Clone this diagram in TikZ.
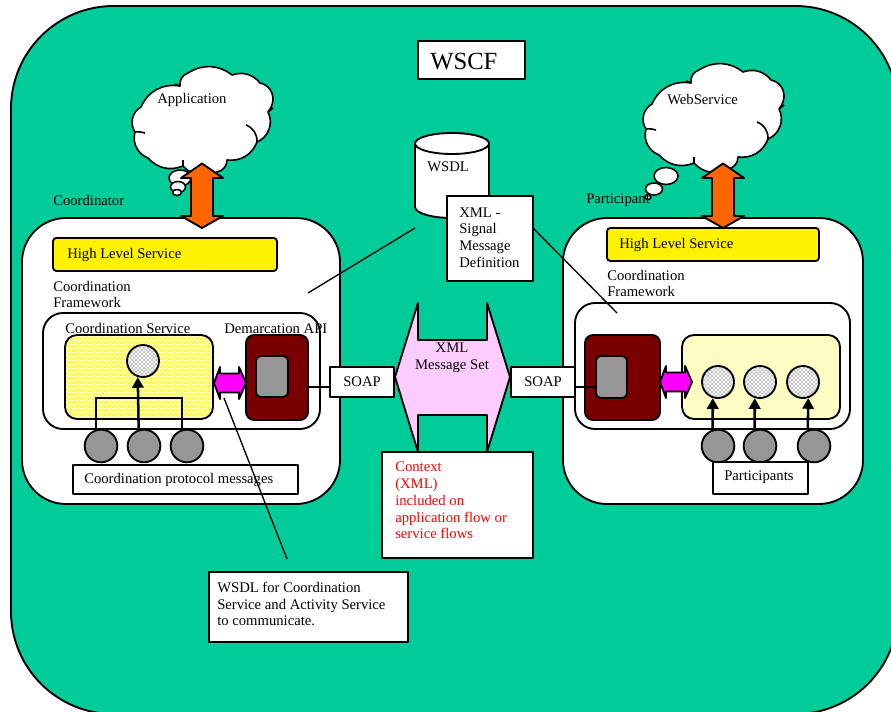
\documentclass[tikz,border=0pt]{standalone}
\usepackage{fontspec}
\setmainfont{Liberation Serif}
\usetikzlibrary{arrows.meta,patterns,calc}
\definecolor{wgreen}{HTML}{00CC99}
\definecolor{worange}{HTML}{FF6600}
\definecolor{wmag}{HTML}{FF00FF}
\definecolor{wred}{HTML}{7A0000}
\definecolor{wgray}{HTML}{969696}
\definecolor{wpink}{HTML}{FFCCFF}
\definecolor{wpale}{HTML}{FFFFE4}
\definecolor{whatch}{HTML}{FFFF99}
\definecolor{wcheck}{HTML}{FFFFC0}
\pgfdeclarepatternformonly{mycheck}{\pgfqpoint{0pt}{0pt}}{\pgfqpoint{3pt}{3pt}}{\pgfqpoint{3pt}{3pt}}{%
  \pgfpathrectangle{\pgfqpoint{0pt}{0pt}}{\pgfqpoint{1.5pt}{1.5pt}}%
  \pgfpathrectangle{\pgfqpoint{1.5pt}{1.5pt}}{\pgfqpoint{1.5pt}{1.5pt}}%
  \pgfusepath{fill}}
\tikzset{
  ln/.style={draw=black,line width=1.4pt,line join=round},
  boxw/.style={ln,fill=white,rectangle,inner sep=0pt},
  mainbox/.style={boxw,rounded corners=33pt},
  innerbox/.style={boxw,rounded corners=15pt},
  hls/.style={ln,fill=yellow,rectangle,inner sep=0pt,rounded corners=2.5pt},
  cs/.style={ln,rectangle,inner sep=0pt,rounded corners=9pt,preaction={fill=wcheck},pattern=mycheck,pattern color=yellow},
  ps/.style={ln,rectangle,inner sep=0pt,rounded corners=9pt,preaction={fill=wpale},pattern=crosshatch,pattern color=whatch},
  redbox/.style={ln,fill=wred,rectangle,inner sep=0pt,rounded corners=6pt},
  graybox/.style={ln,fill=wgray,rectangle,inner sep=0pt,rounded corners=3.5pt},
  gc/.style={ln,fill=wgray,circle,inner sep=0pt,minimum size=24.5pt},
  hc/.style={ln,circle,inner sep=0pt,minimum size=24pt,preaction={fill=white},pattern=crosshatch,pattern color=black!28},
  txt/.style={anchor=west,inner sep=0pt,yshift=-0.4pt,align=left,font=\fontsize{11}{12.6}\selectfont},
  ctxt/.style={inner sep=0pt,align=center,font=\fontsize{11}{12.6}\selectfont},
  conn/.style={draw=black,line width=1pt},
  arr/.style={draw=black,line width=1.9pt,-{Triangle[length=8pt,width=8.5pt]}},
  cloudline/.style={ln,line width=1.2pt,fill=white},
  blockarrow/.style={ln,line width=1.4pt,miter limit=10},
}
\newcommand{\pbox}[7]{\node[#2,minimum width={(#5-#3)*0.75pt},minimum height={(#6-#4)*0.75pt}] (#1) at ({(#3+#5)/2},{(#4+#6)/2}) {#7};}
\newcommand{\cloudshape}{%
  \draw[cloudline] (141,107) to[bend left=38] (180,86) to[bend left=40] (188,73)
    to[bend left=35] (232,75) to[bend left=35] (260,83) to[bend left=40] (273,100)
    to[bend left=15] (268,112) to[bend left=48] (257,142) to[bend left=38] (227,160)
    to[bend left=40] (217,172) to[bend left=38] (183,166) to[bend left=35] (148,158)
    to[bend left=42] (135,132) to[bend left=48] (141,107) -- cycle;
  \draw[ln,line width=1.2pt] (145,133) to[bend right=10] (135,132);
  \draw[ln,line width=1.2pt] (183,160) -- (183,166);
  \draw[ln,line width=1.2pt] (246,125) to[bend left=35] (257,142);
  \draw[ln,line width=1.2pt] (268,112) -- (273,108);
  \draw[ln,line width=1.2pt] (175,84) -- (180,86);
}
\newcommand{\vdouble}[1]{% x-centre
  \draw[blockarrow,fill=worange] (#1,163.5) -- (#1+21,178) -- (#1+11,178) -- (#1+11,216) -- (#1+21,216)
   -- (#1,228) -- (#1-21,216) -- (#1-11,216) -- (#1-11,178) -- (#1-21,178) -- cycle;}
\newcommand{\hdouble}[2]{% left x, y
  \draw[blockarrow,fill=wmag] (#1,#2) -- (#1+6,#2-16) -- (#1+6,#2-9.5) -- (#1+25,#2-9.5) -- (#1+25,#2-16)
   -- (#1+32,#2) -- (#1+25,#2+16) -- (#1+25,#2+9.5) -- (#1+6,#2+9.5) -- (#1+6,#2+16) -- cycle;}
\begin{document}
\begin{tikzpicture}[x=0.75pt,y=-0.75pt]
\clip (0,0) rectangle (891,712);
\fill[white] (0,0) rectangle (891,712);
% outer frame
\draw[ln,fill=wgreen,rounded corners=77pt] (11,6) rectangle (898,714);
\pbox{wscf}{boxw}{418}{41}{525}{79}{}
\node[anchor=west,inner sep=0pt,font=\fontsize{18.5}{20}\selectfont] (twscf) at (430,62) {WSCF};
% clouds
\draw[cloudline] (180,178) ellipse [x radius=11,y radius=8];
\draw[cloudline] (178,187) ellipse [x radius=7.5,y radius=5.5];
\draw[cloudline] (177,192.5) ellipse [x radius=4.5,y radius=3];
\cloudshape
\begin{scope}[xshift=383.25pt,yshift=2.25pt]\cloudshape\end{scope}
\draw[cloudline] (666,176) ellipse [x radius=12,y radius=8.5];
\draw[cloudline] (654,189) ellipse [x radius=8.5,y radius=6];
\draw[cloudline] (648,197) ellipse [x radius=3,y radius=2.5];
\node[txt] (tapp) at (157,99) {Application};
\node[txt] (tws) at (667,99) {WebService};
\node[txt] (tcoord) at (53,200) {Coordinator};
\node[txt] (tpart) at (586,200) {Participant};
% main boxes
\pbox{mainL}{mainbox}{22}{218}{340}{504}{}
\pbox{mainR}{mainbox}{563}{218}{863}{504}{}
\vdouble{202}
\vdouble{723}
\pbox{hlsL}{hls}{53}{238}{277}{271}{}
\node[txt] (thlsL) at (67,254) {High Level Service};
\pbox{hlsR}{hls}{607}{228}{819}{261}{}
\node[txt] (thlsR) at (619,244) {High Level Service};
\node[txt] (tcfL) at (53,294) {Coordination\\Framework};
\node[txt] (tcfR) at (607,283) {Coordination\\Framework};
\pbox{innerL}{innerbox}{43}{313}{320}{429}{}
\pbox{innerR}{innerbox}{575}{303}{850}{429}{}
% left internals
\pbox{csL}{cs}{65}{335}{213}{419}{}
\node[txt] (tcs) at (65,328) {Coordination Service};
\node[txt] (tdem) at (224,328) {Demarcation API};
\node[hc] (hL) at (143,361) {};
\node[gc] (g1) at (101,446) {};
\node[gc] (g2) at (144,446) {};
\node[gc] (g3) at (187,446) {};
\coordinate (bar) at (139,398);
\draw[conn,line width=1.4pt] (g1.108) |- (bar) -| (g3.108);
\draw[arr] (g2.108) -- (hL.252);
\pbox{redL}{redbox}{246}{335}{308}{420}{}
\pbox{grayL}{graybox}{256}{356}{288}{397}{}
\hdouble{214}{383}
\pbox{cpm}{boxw}{73}{465}{298}{494}{}
\node[txt] (tcpm) at (84,479) {Coordination protocol messages};
% right internals
\pbox{redR}{redbox}{585}{335}{660}{420}{}
\pbox{grayR}{graybox}{596}{356}{627}{398}{}
\pbox{psR}{ps}{682}{335}{840}{419}{}
\hdouble{660}{382}
\node[hc] (h1) at (718,382) {};
\node[hc] (h2) at (760,382) {};
\node[hc] (h3) at (803,382) {};
\node[gc] (p1) at (718,446) {};
\node[gc] (p2) at (760,446) {};
\node[gc] (p3) at (814,446) {};
\draw[arr] (p1.108) -- (h1.252);
\draw[arr] (p2.108) -- (h2.252);
\draw[arr] (p3.111) -- (h3.288);
\pbox{parts}{boxw}{713}{462}{808}{494}{}
\node[txt] (tparts) at (724,477) {Participants};
% centre
\draw[ln,fill=wpink,miter limit=10] (395,377) -- (418,303) -- (418,340) -- (487,340) -- (487,303) -- (510,377)
  -- (487,452) -- (487,415) -- (418,415) -- (418,452) -- cycle;
\node[ctxt] (txml) at (452,358) {XML\\Message Set};
\pbox{soapL}{boxw}{330}{367}{394}{397}{\fontsize{11}{12.6}\selectfont SOAP}
\pbox{soapR}{boxw}{511}{367}{575}{397}{\fontsize{11}{12.6}\selectfont SOAP}
\coordinate (lnk) at (0,387);
\draw[conn] (redL.east |- lnk) -- (soapL.west |- lnk);
\draw[conn] (soapR.east |- lnk) -- (grayR.west |- lnk);
\pbox{ctx}{boxw}{382}{452}{533}{558}{}
\node[txt,text=red] (tctx) at (395,500) {Context\\(XML)\\included on\\application flow or\\service flows};
% WSDL cylinder
\draw[ln,fill=white] (415,143.5) -- (415,207) arc[start angle=180,end angle=0,x radius=37,y radius=11] -- (489,143.5)
  arc[start angle=0,end angle=-180,x radius=37,y radius=10.5] -- cycle;
\draw[ln] (415,143.5) arc[start angle=180,end angle=0,x radius=37,y radius=10.5];
\node[txt] (twsdl) at (427,166) {WSDL};
\pbox{xmlb}{boxw}{447}{196}{533}{281}{}
\node[txt] (txmlb) at (459,237) {XML -\\Signal\\Message\\Definition};
\coordinate (lfree1) at (308,293);
\coordinate (lfree2) at (415,228);
\coordinate (rfree) at (617,313);
\coordinate (xr) at (533,228);
\draw[conn] (lfree1) -- (lfree2);
\draw[conn] (xr) -- (rfree);
% WSDL for coordination
\coordinate (wtop) at (224,398);
\coordinate (wbot) at (287,559);
\draw[conn] (wtop) -- (wbot);
\pbox{wbox}{boxw}{209}{572}{408}{642}{}
\node[txt] (twb) at (217,603.5) {WSDL for Coordination\\Service and Activity Service\\to communicate.};
\end{tikzpicture}
\end{document}
